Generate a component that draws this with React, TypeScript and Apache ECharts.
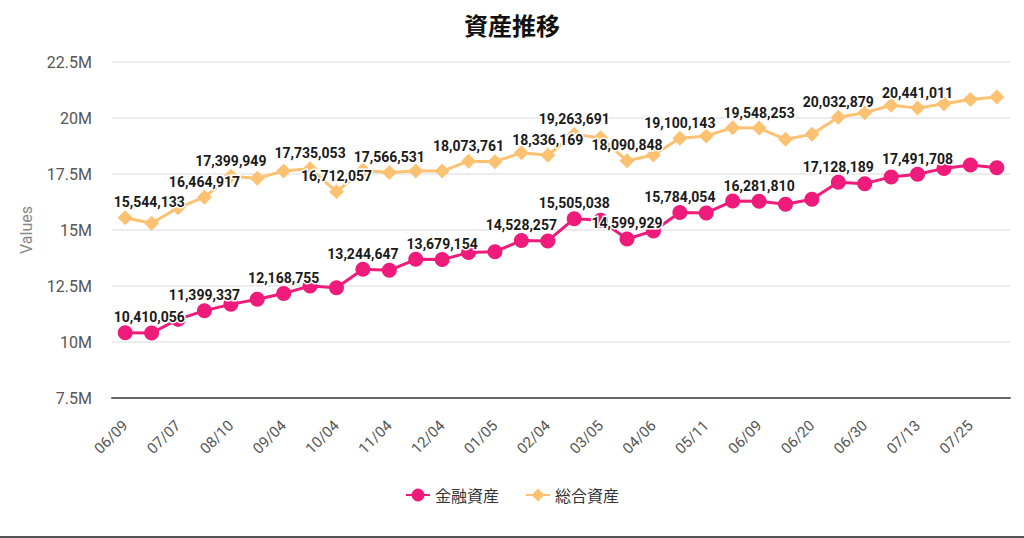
import React, { useEffect, useRef } from "react";
import * as echarts from "echarts";

const categories = [
  "06/09", "06/23", "07/07", "07/24", "08/10", "08/25", "09/04", "09/19",
  "10/04", "10/19", "11/04", "11/19", "12/04", "12/19", "01/05", "01/20",
  "02/04", "02/19", "03/05", "03/20", "04/06", "04/23", "05/11", "05/25",
  "06/09", "06/14", "06/20", "06/25", "06/30", "07/06", "07/13", "07/19",
  "07/25", "08/01",
];

const financialAssets = [
  10410056, 10400000, 11010000, 11399337, 11680000, 11910000, 12168755, 12500000,
  12420000, 13244647, 13200000, 13690000, 13679154, 13990000, 14030000, 14528257,
  14510000, 15505038, 15430000, 14599929, 14960000, 15784054, 15760000, 16290000,
  16281810, 16150000, 16370000, 17128189, 17070000, 17370000, 17491708, 17750000,
  17900000, 17780000,
];

const totalAssets = [
  15544133, 15300000, 15990000, 16464917, 17399949, 17310000, 17630000, 17735053,
  16712057, 17670000, 17566531, 17630000, 17630000, 18073761, 18050000, 18450000,
  18336169, 19263691, 19120000, 18090848, 18350000, 19100143, 19200000, 19570000,
  19548253, 19050000, 19270000, 20032879, 20230000, 20570000, 20441011, 20640000,
  20830000, 20940000,
];

const financialLabelIdx = [0, 3, 6, 9, 12, 15, 17, 19, 21, 24, 27, 30];
const totalLabelIdx = [0, 3, 4, 7, 8, 10, 13, 16, 17, 19, 21, 24, 27, 30];

const seriesNames = ["金融資産", "総合資産"];
const colors = ["#EE1B7B", "#FCC271"];

const FONT = "Roboto, 'Noto Sans CJK JP', sans-serif";

function buildData(values: number[], idx: number[]) {
  return values.map((v, i) => ({
    value: v,
    label: {
      show: idx.includes(i),
      offset: i === 0 ? [24, 0] : [0, 0],
    },
  }));
}

export default function App() {
  const ref = useRef<HTMLDivElement>(null);

  useEffect(() => {
    document.body.style.margin = "0";
    if (!ref.current) return;
    const chart = echarts.init(ref.current, undefined, { renderer: "svg" });

    const labelStyle = {
      position: "top" as const,
      distance: 1,
      fontFamily: FONT,
      fontSize: 14,
      fontWeight: "bold" as const,
      color: "#1a1a1a",
      textBorderColor: "#fff",
      textBorderWidth: 3,
      formatter: (p: any) => Number(p.value).toLocaleString("en-US"),
    };

    chart.setOption({
      animation: false,
      backgroundColor: "#fff",
      title: {
        text: "資産推移",
        left: "center",
        top: 7,
        textStyle: {
          fontFamily: "'Noto Sans CJK JP', sans-serif",
          fontSize: 24,
          fontWeight: "bold",
          color: "#111",
        },
      },
      legend: {
        bottom: 30,
        left: "center",
        itemWidth: 24,
        itemHeight: 16,
        itemGap: 26,
        textStyle: {
          fontFamily: "'Noto Sans CJK JP', sans-serif",
          fontSize: 16,
          color: "#333",
        },
        data: seriesNames,
      },
      grid: { left: 112, right: 14, top: 62, bottom: 140, containLabel: false },
      xAxis: {
        type: "category",
        data: categories,
        boundaryGap: true,
        axisLine: { lineStyle: { color: "#666", width: 2 } },
        axisTick: { show: false },
        axisLabel: {
          interval: 1,
          rotate: 45,
          margin: 25,
          fontFamily: FONT,
          fontSize: 15,
          color: "#555",
        },
        splitLine: { show: false },
      },
      yAxis: {
        type: "value",
        min: 7500000,
        max: 22500000,
        interval: 2500000,
        name: "Values",
        nameLocation: "middle",
        nameGap: 78,
        nameTextStyle: { fontFamily: FONT, fontSize: 16, color: "#888" },
        axisLine: { show: false },
        axisTick: { show: false },
        axisLabel: {
          margin: 20,
          fontFamily: FONT,
          fontSize: 16,
          color: "#555",
          formatter: (v: number) => `${v / 1000000}M`,
        },
        splitLine: { lineStyle: { color: "#e6e6e6", width: 1.5 } },
      },
      series: [
        {
          name: seriesNames[0],
          type: "line",
          data: buildData(financialAssets, financialLabelIdx),
          symbol: "circle",
          symbolSize: 15,
          color: colors[0],
          lineStyle: { width: 3, color: colors[0] },
          itemStyle: { color: colors[0] },
          label: labelStyle,
          z: 3,
        },
        {
          name: seriesNames[1],
          type: "line",
          data: buildData(totalAssets, totalLabelIdx),
          symbol: "diamond",
          symbolSize: 15,
          color: colors[1],
          lineStyle: { width: 3, color: colors[1] },
          itemStyle: { color: colors[1] },
          label: labelStyle,
          z: 2,
        },
      ],
      graphic: [
        {
          type: "line",
          shape: { x1: 0, y1: 537, x2: 1024, y2: 537 },
          style: { stroke: "#555", lineWidth: 2 },
        },
      ],
    });

    return () => chart.dispose();
  }, []);

  return <div ref={ref} style={{ width: 1024, height: 538 }} />;
}
